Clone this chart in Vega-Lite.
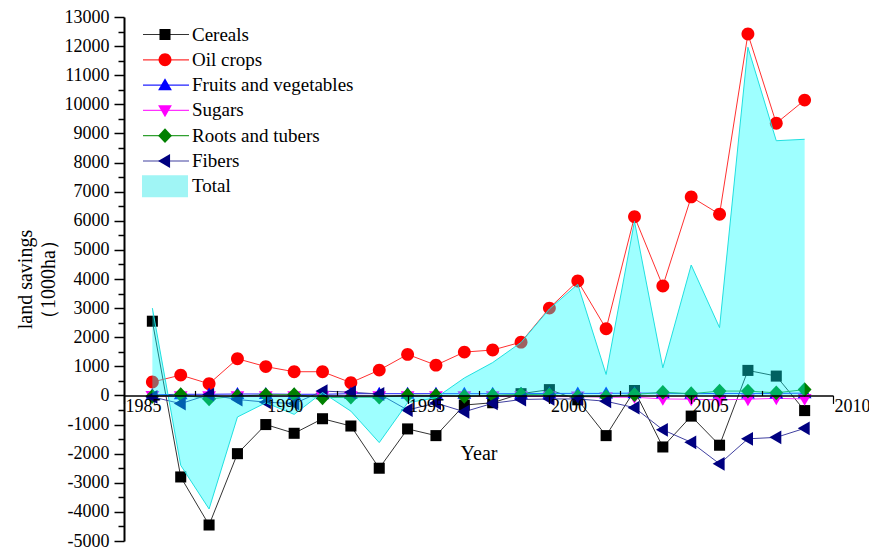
{
  "$schema": "https://vega.github.io/schema/vega-lite/v6.json",
  "width": 709,
  "height": 524,
  "autosize": {"type": "none"},
  "padding": {"left": 124, "top": 17, "right": 36, "bottom": 8},
  "background": "white",
  "config": {"view": {"stroke": null}, "font": "Liberation Serif"},
  "data": {"values": [
    {"year": 1986, "Cereals": 2550, "Oil crops": 460, "Fruits and vegetables": 20, "Sugars": -20, "Roots and tubers": -30, "Fibers": -50, "Total": 3000},
    {"year": 1987, "Cereals": -2800, "Oil crops": 700, "Fruits and vegetables": 40, "Sugars": -30, "Roots and tubers": 30, "Fibers": -280, "Total": -2400},
    {"year": 1988, "Cereals": -4450, "Oil crops": 400, "Fruits and vegetables": 40, "Sugars": -30, "Roots and tubers": -120, "Fibers": 30, "Total": -3900},
    {"year": 1989, "Cereals": -2000, "Oil crops": 1260, "Fruits and vegetables": 50, "Sugars": -30, "Roots and tubers": -20, "Fibers": -140, "Total": -740},
    {"year": 1990, "Cereals": -1000, "Oil crops": 990, "Fruits and vegetables": 50, "Sugars": -30, "Roots and tubers": 20, "Fibers": -230, "Total": -250},
    {"year": 1991, "Cereals": -1300, "Oil crops": 815, "Fruits and vegetables": 40, "Sugars": -30, "Roots and tubers": 30, "Fibers": -280, "Total": -650},
    {"year": 1992, "Cereals": -800, "Oil crops": 815, "Fruits and vegetables": 40, "Sugars": -30, "Roots and tubers": -80, "Fibers": 150, "Total": 100},
    {"year": 1993, "Cereals": -1050, "Oil crops": 440, "Fruits and vegetables": 60, "Sugars": -30, "Roots and tubers": -60, "Fibers": 110, "Total": -540},
    {"year": 1994, "Cereals": -2500, "Oil crops": 870, "Fruits and vegetables": 60, "Sugars": -30, "Roots and tubers": -60, "Fibers": 50, "Total": -1620},
    {"year": 1995, "Cereals": -1150, "Oil crops": 1410, "Fruits and vegetables": 60, "Sugars": -30, "Roots and tubers": 10, "Fibers": -500, "Total": -250},
    {"year": 1996, "Cereals": -1380, "Oil crops": 1040, "Fruits and vegetables": 60, "Sugars": -30, "Roots and tubers": 0, "Fibers": -260, "Total": -80},
    {"year": 1997, "Cereals": -330, "Oil crops": 1490, "Fruits and vegetables": 60, "Sugars": -30, "Roots and tubers": -30, "Fibers": -560, "Total": 600},
    {"year": 1998, "Cereals": -250, "Oil crops": 1560, "Fruits and vegetables": 60, "Sugars": -30, "Roots and tubers": 0, "Fibers": -270, "Total": 1130},
    {"year": 1999, "Cereals": 60, "Oil crops": 1830, "Fruits and vegetables": 60, "Sugars": -30, "Roots and tubers": 40, "Fibers": -140, "Total": 1820},
    {"year": 2000, "Cereals": 200, "Oil crops": 3000, "Fruits and vegetables": 70, "Sugars": -40, "Roots and tubers": 20, "Fibers": -120, "Total": 2970},
    {"year": 2001, "Cereals": -150, "Oil crops": 3930, "Fruits and vegetables": 70, "Sugars": -40, "Roots and tubers": -40, "Fibers": -120, "Total": 3820},
    {"year": 2002, "Cereals": -1380, "Oil crops": 2290, "Fruits and vegetables": 70, "Sugars": -60, "Roots and tubers": -40, "Fibers": -200, "Total": 720},
    {"year": 2003, "Cereals": 170, "Oil crops": 6140, "Fruits and vegetables": 80, "Sugars": -60, "Roots and tubers": 30, "Fibers": -420, "Total": 5980},
    {"year": 2004, "Cereals": -1770, "Oil crops": 3760, "Fruits and vegetables": 80, "Sugars": -120, "Roots and tubers": 110, "Fibers": -1180, "Total": 950},
    {"year": 2005, "Cereals": -710, "Oil crops": 6820, "Fruits and vegetables": 60, "Sugars": -130, "Roots and tubers": 60, "Fibers": -1610, "Total": 4480},
    {"year": 2006, "Cereals": -1710, "Oil crops": 6225, "Fruits and vegetables": 70, "Sugars": -150, "Roots and tubers": 150, "Fibers": -2350, "Total": 2330},
    {"year": 2007, "Cereals": 860, "Oil crops": 12415, "Fruits and vegetables": 70, "Sugars": -130, "Roots and tubers": 150, "Fibers": -1490, "Total": 11960},
    {"year": 2008, "Cereals": 665, "Oil crops": 9350, "Fruits and vegetables": 70, "Sugars": -100, "Roots and tubers": 90, "Fibers": -1440, "Total": 8750},
    {"year": 2009, "Cereals": -520, "Oil crops": 10145, "Fruits and vegetables": 80, "Sugars": -120, "Roots and tubers": 200, "Fibers": -1130, "Total": 8800}
  ]},
  "transform": [
    {"fold": ["Cereals", "Oil crops", "Fruits and vegetables", "Sugars", "Roots and tubers", "Fibers", "Total"], "as": ["series", "value"]}
  ],
  "encoding": {
    "x": {
      "field": "year", "type": "quantitative",
      "scale": {"domain": [1985, 2010], "nice": false, "zero": false},
      "axis": {
        "values": [1985, 1987.5, 1990, 1992.5, 1995, 1997.5, 2000, 2002.5, 2005, 2007.5, 2010],
        "labelExpr": "datum.value % 5 === 0 ? toString(datum.value) : ''",
        "offset": -145.56,
        "domainColor": "black", "domainWidth": 1.5,
        "tickColor": "black", "tickWidth": 1.2,
        "tickSize": {"condition": {"test": "datum.value % 5 === 0", "value": 8}, "value": -5},
        "labelAlign": "left", "labelBaseline": "top", "labelPadding": -6, "labelOffset": 1,
        "labelFontSize": 18, "labelFont": "Liberation Serif", "labelColor": "black",
        "labelFlush": false, "labelOverlap": false,
        "title": "Year", "titleFontSize": 20, "titleFont": "Liberation Serif", "titleFontWeight": "normal",
        "titleColor": "black", "titlePadding": 28,
        "grid": false, "zindex": 1
      }
    },
    "y": {
      "field": "value", "type": "quantitative",
      "scale": {"domain": [-5000, 13000], "nice": false, "zero": false},
      "axis": {
        "values": [-5000, -4500, -4000, -3500, -3000, -2500, -2000, -1500, -1000, -500, 0, 500, 1000, 1500, 2000, 2500, 3000, 3500, 4000, 4500, 5000, 5500, 6000, 6500, 7000, 7500, 8000, 8500, 9000, 9500, 10000, 10500, 11000, 11500, 12000, 12500, 13000],
        "labelExpr": "datum.value % 1000 === 0 ? toString(datum.value) : ''",
        "domainColor": "black", "domainWidth": 2,
        "tickColor": "black", "tickWidth": 1.5,
        "tickSize": {"condition": {"test": "datum.value % 1000 === 0", "value": 10}, "value": 6},
        "labelPadding": 5,
        "labelFontSize": 18, "labelFont": "Liberation Serif", "labelColor": "black",
        "labelFlush": false, "labelOverlap": false,
        "title": ["land savings", "（1000ha）"], "titleFontSize": 20, "titleFont": "Liberation Serif",
        "titleFontWeight": "normal", "titleColor": "black", "titlePadding": 6, "titleLineHeight": 23,
        "grid": false
      }
    }
  },
  "layer": [
    {
      "transform": [{"filter": "datum.series !== 'Total'"}],
      "mark": {"type": "line", "strokeWidth": 1},
      "encoding": {
        "stroke": {
          "field": "series", "type": "nominal",
          "scale": {
            "domain": ["Cereals", "Oil crops", "Fruits and vegetables", "Sugars", "Roots and tubers", "Fibers"],
            "range": ["#333333", "#ff3030", "#2020ff", "#ff30ff", "#30a030", "#4040a0"]
          },
          "legend": {
            "orient": "none", "legendX": 18, "legendY": 5.5, "title": null, "padding": 0,
            "symbolType": "stroke", "symbolSize": 2116, "symbolStrokeWidth": 1.2,
            "clipHeight": 24, "rowPadding": 1.3,
            "labelExpr": "''", "labelFontSize": 19, "labelFont": "Liberation Serif", "labelOffset": 4
          }
        }
      }
    },
    {
      "transform": [{"filter": "datum.series !== 'Total'"}],
      "mark": {"type": "point", "filled": true, "opacity": 1, "size": 2116},
      "encoding": {
        "fill": {
          "field": "series", "type": "nominal",
          "scale": {
            "domain": ["Cereals", "Oil crops", "Fruits and vegetables", "Sugars", "Roots and tubers", "Fibers", "Total"],
            "range": ["#000000", "#ff0000", "#0000ff", "#ff00ff", "#008000", "#000080", "#a0f5f5"]
          },
          "legend": {
            "orient": "none", "legendX": 18, "legendY": 5.5, "title": null, "padding": 0,
            "symbolSize": 2116, "symbolStrokeWidth": 0, "symbolOpacity": 1,
            "clipHeight": 24, "rowPadding": 1.3, "labelLimit": 0,
            "labelFontSize": 19, "labelFont": "Liberation Serif", "labelColor": "black", "labelOffset": 4
          }
        },
        "shape": {
          "field": "series", "type": "nominal",
          "scale": {
            "domain": ["Cereals", "Oil crops", "Fruits and vegetables", "Sugars", "Roots and tubers", "Fibers", "Total"],
            "range": [
              "M-0.24,-0.24H0.24V0.24H-0.24Z",
              "M0.28,0A0.28,0.28,0,1,1,-0.28,0A0.28,0.28,0,1,1,0.28,0Z",
              "M0,-0.3L0.3,0.22L-0.3,0.22Z",
              "M0,0.3L0.3,-0.22L-0.3,-0.22Z",
              "M0,-0.32L0.3,0L0,0.32L-0.3,0Z",
              "M-0.3,0L0.22,-0.3L0.22,0.3Z",
              "M-1,-0.48H1V0.48H-1Z"
            ]
          },
          "legend": {
            "orient": "none", "legendX": 18, "legendY": 5.5, "title": null, "padding": 0,
            "symbolSize": 2116, "symbolStrokeWidth": 0, "symbolOpacity": 1,
            "clipHeight": 24, "rowPadding": 1.3, "labelLimit": 0,
            "labelFontSize": 19, "labelFont": "Liberation Serif", "labelColor": "black", "labelOffset": 4
          }
        }
      }
    },
    {
      "transform": [{"filter": "datum.series === 'Total'"}],
      "mark": {"type": "area", "color": "#00ffff", "fillOpacity": 0.38},
      "encoding": {}
    },
    {
      "transform": [{"filter": "datum.series === 'Total'"}],
      "mark": {"type": "line", "color": "#20e0e0", "strokeWidth": 1},
      "encoding": {}
    }
  ]
}
